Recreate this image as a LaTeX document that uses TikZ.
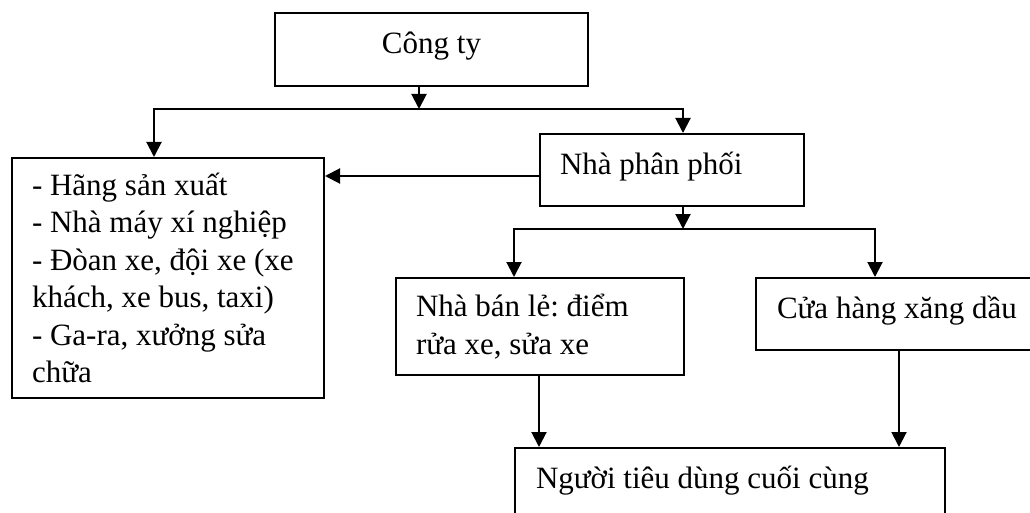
\documentclass[tikz,border=0pt]{standalone}
\usepackage{fontspec}
\setmainfont{Liberation Serif}
\usetikzlibrary{arrows.meta}

\begin{document}
\begin{tikzpicture}[x=1pt,y=-1pt,
  box/.style={draw, line width=2pt, anchor=north west,
    font=\fontsize{31}{37.4}\selectfont\frenchspacing\raggedright,
    execute at begin node={\spaceskip=0.25em\relax\xspaceskip=0.25em\relax}},
  oneline/.style={text height=24pt, text depth=15pt},
  arr/.style={line width=2pt, -{Triangle[width=15pt,length=15pt]}}]
  \useasboundingbox (0,0) rectangle (1030,513);
  \clip (0,0) rectangle (1030,513);

  \node[box, oneline, minimum width=313pt, minimum height=73pt, inner sep=0pt] (cty) at (274,12) {Công ty};
  \node[box, oneline, text width=224pt, inner xsep=20pt, minimum height=72pt] (npp) at (539,133) {Nhà phân phối};
  \node[box, text width=272pt, inner xsep=20pt, minimum height=240pt] (tochuc) at (11,157)
    {- Hãng sản xuất\\- Nhà máy xí nghiệp\\- Đòan xe, đội xe (xe\\khách, xe bus, taxi)\\- Ga-ra, xưởng sửa\\chữa};
  \node[box, text width=248pt, inner xsep=20pt, minimum height=97pt] (nbl) at (395,277)
    {Nhà bán lẻ: điểm\\rửa xe, sửa xe};
  \node[box, oneline, text width=258pt, inner xsep=21pt, minimum height=72pt] (chx) at (755,277) {Cửa hàng xăng dầu};
  \node[box, oneline, text width=388pt, inner xsep=21pt, minimum height=72pt] (ntd) at (514,447) {Người tiêu dùng cuối cùng};

  % level 1
  \coordinate (tm) at (419,109);
  \coordinate (t1) at (154,109);
  \coordinate (t2) at (683,109);
  \draw[arr] (cty.south -| tm) -- (tm);
  \draw[arr] (tm) -| (tochuc.north -| t1);
  \draw[arr] (tm) -| (npp.north -| t2);

  % distributor to organisations
  \coordinate (ta) at (539,176);
  \draw[arr] (ta) -- (tochuc.east |- ta);

  % level 2
  \coordinate (um) at (683,229);
  \coordinate (u1) at (514,229);
  \coordinate (u2) at (875,229);
  \draw[arr] (npp.south -| um) -- (um);
  \draw[arr] (um) -| (nbl.north -| u1);
  \draw[arr] (um) -| (chx.north -| u2);

  % level 3
  \coordinate (v1) at (539,447);
  \coordinate (v2) at (899,447);
  \draw[arr] (nbl.south -| v1) -- (v1);
  \draw[arr] (chx.south -| v2) -- (v2);
\end{tikzpicture}
\end{document}
